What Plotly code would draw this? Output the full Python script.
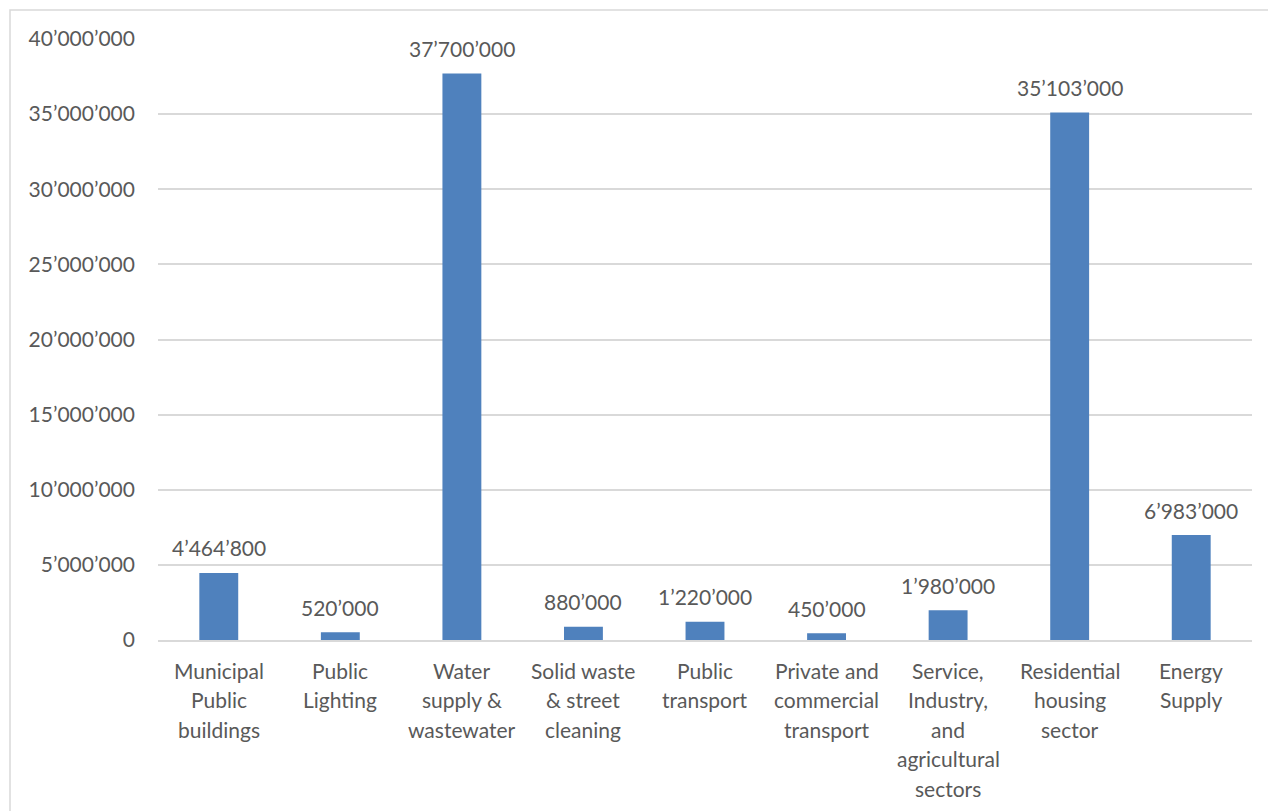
import plotly.graph_objects as go

# Investment by sector
categories = [
    "Municipal Public buildings",
    "Public Lighting",
    "Water supply & wastewater",
    "Solid waste & street cleaning",
    "Public transport",
    "Private and commercial transport",
    "Service, Industry, and agricultural sectors",
    "Residential housing sector",
    "Energy Supply",
]
category_lines = [
    ["Municipal", "Public", "buildings"],
    ["Public", "Lighting"],
    ["Water", "supply &", "wastewater"],
    ["Solid waste", "& street", "cleaning"],
    ["Public", "transport"],
    ["Private and", "commercial", "transport"],
    ["Service,", "Industry,", "and", "agricultural", "sectors"],
    ["Residential", "housing", "sector"],
    ["Energy", "Supply"],
]
values = [4464800, 520000, 37700000, 880000, 1220000, 450000, 1980000, 35103000, 6983000]
y_ticks = [0, 5000000, 10000000, 15000000, 20000000, 25000000, 30000000, 35000000, 40000000]


def fmt(v):
    return f"{v:,}".replace(",", "\u2019")


FONT = "Lato"
FONT_SIZE = 21
TEXT_COLOR = "#595959"
BAR_COLOR = "#4F81BD"
GRID_COLOR = "#D9D9D9"

W, H = 1268, 811
L, R, T, B = 158, 16, 39, 171
pw, ph = W - L - R, H - T - B

fig = go.Figure(
    go.Bar(
        x=categories,
        y=values,
        marker=dict(color=BAR_COLOR, line=dict(width=0)),
        hoverinfo="skip",
    )
)

annotations = []
# value labels above bars
for c, v in zip(categories, values):
    annotations.append(dict(
        x=c, y=v, xref="x", yref="y", text=fmt(v), showarrow=False,
        yanchor="middle", yshift=25,
        font=dict(family=FONT, size=FONT_SIZE, color=TEXT_COLOR),
    ))
# multi-line category labels
for c, lines in zip(categories, category_lines):
    for i, line in enumerate(lines):
        annotations.append(dict(
            x=c, y=0, xref="x", yref="y", text=line, showarrow=False,
            yanchor="middle", yshift=-(30 + 29.5 * i),
            font=dict(family=FONT, size=FONT_SIZE, color=TEXT_COLOR),
        ))

fig.update_layout(
    width=W, height=H,
    margin=dict(l=L, r=R, t=T, b=B, pad=0),
    paper_bgcolor="white",
    plot_bgcolor="white",
    bargap=0.68,
    showlegend=False,
    annotations=annotations,
    font=dict(family=FONT, size=FONT_SIZE, color=TEXT_COLOR),
    # outer chart frame (extends past the right and bottom edges)
    shapes=[dict(
        type="rect", xref="paper", yref="paper",
        x0=(10 - L) / pw, x1=(W + 10 - L) / pw,
        y0=(T + ph - (H + 20)) / ph, y1=1 + (T - 10) / ph,
        line=dict(color="#D9D9D9", width=1.5), fillcolor="rgba(0,0,0,0)",
        layer="below",
    )],
)
fig.update_xaxes(
    showticklabels=False, showgrid=False, zeroline=False,
    showline=True, linecolor=GRID_COLOR, linewidth=1.5, ticks="",
)
fig.update_yaxes(
    range=[0, 40000000],
    tickvals=y_ticks, ticktext=[fmt(v) for v in y_ticks],
    showgrid=True, gridcolor=GRID_COLOR, gridwidth=1.5,
    zeroline=False, showline=False, ticks="",
    ticklabelstandoff=22,
    tickfont=dict(family=FONT, size=FONT_SIZE, color=TEXT_COLOR),
)

fig.write_html("out.html")
